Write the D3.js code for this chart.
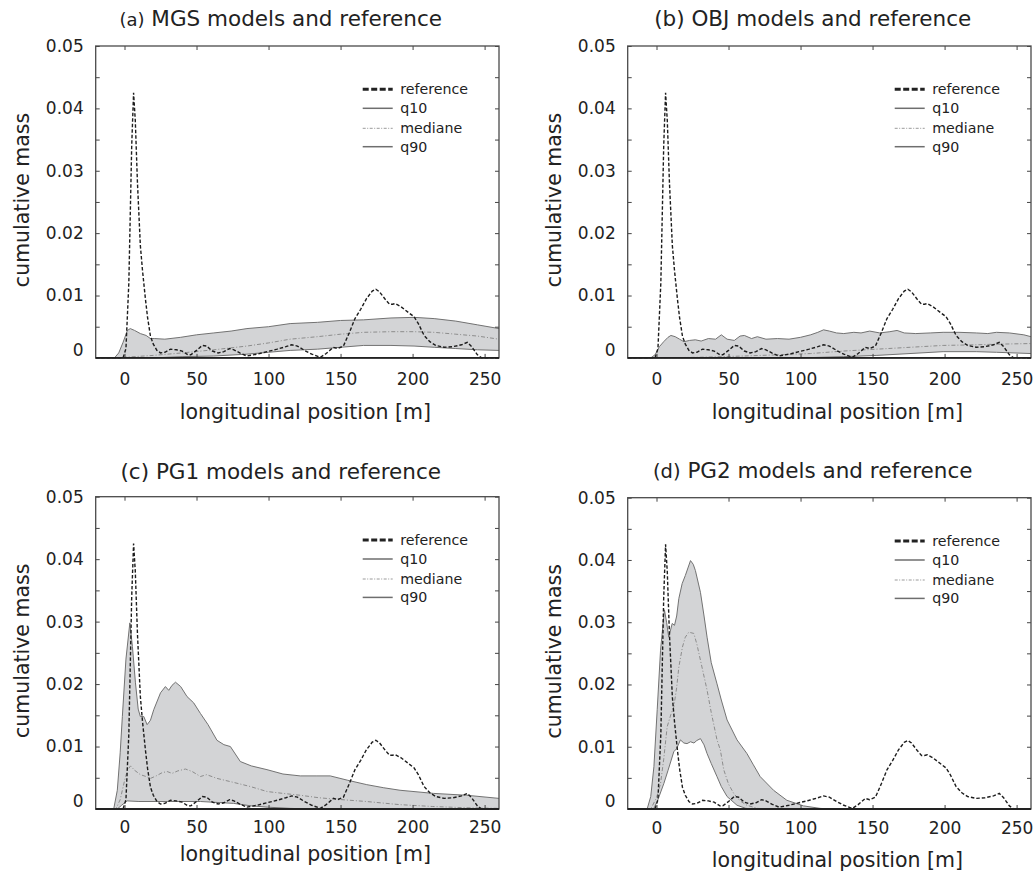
<!DOCTYPE html>
<html>
<head>
<meta charset="utf-8">
<script src="https://cdn.jsdelivr.net/npm/d3@7"></script>
<style>
  body { margin: 0; background: #fff; }
  svg { display: block; font-family: "DejaVu Sans", sans-serif; }
</style>
</head>
<body>
<svg id="chart" width="1035" height="873"></svg>
<script>
// reference curve, identical in the four panels  [x, mass]
const refCurve = [[-20,0],[-1,0],[1,0.0015],[3,0.012],[5,0.034],[6.3,0.0425],[7.5,0.038],[9,0.028],[11,0.018],[12.5,0.014],
  [14.5,0.0095],[16,0.0065],[18,0.0035],[20,0.0022],[22.5,0.0012],[25,0.0008],[28,0.0009],[32,0.0014],[36,0.0013],[40,0.0011],
  [44,0.0005],[46,0.0005],[50,0.0012],[54,0.002],[57,0.0019],[61,0.0011],[65,0.0008],[69,0.001],[73,0.0015],[76,0.0013],
  [80,0.0008],[85,0.0003],[92,0.0006],[99,0.001],[106,0.0014],[112,0.0018],[116,0.0021],[120,0.0019],[125,0.0012],[130,0.0006],
  [136,0.0001],[140,0.0007],[145,0.0017],[148,0.0015],[152,0.0019],[156,0.004],[160,0.0063],[164,0.0078],[168,0.0095],[172,0.0107],
  [174.5,0.011],[177,0.0106],[181,0.0094],[184,0.0086],[186,0.0086],[188,0.0087],[192,0.0082],[197,0.0073],[201,0.0066],[204,0.0055],
  [208,0.0036],[212,0.0026],[216,0.002],[222,0.0017],[228,0.0018],[234,0.0021],[238,0.0025],[241,0.0018],[245,0.0005],[248,0],[260,0]];

// (a) MGS
const mgsQ90 = [[-20,0],[-7,0],[-4,0.0008],[-1,0.0025],[2,0.0044],[4,0.0047],[7,0.0044],[11,0.0039],[15,0.0036],[18,0.0031],
  [21,0.0031],[28,0.003],[39,0.0033],[50,0.0037],[62,0.004],[74,0.0043],[85,0.0047],[100,0.005],[115,0.0055],[134,0.0057],
  [150,0.006],[166,0.0061],[185,0.0064],[201,0.0065],[215,0.0063],[230,0.0059],[245,0.0053],[260,0.0047]];
const mgsMedian = [[-20,0],[-3,0],[0,0.0001],[20,0.0004],[40,0.0008],[62,0.0013],[85,0.0019],[100,0.0024],[115,0.003],[134,0.0034],
  [150,0.0038],[166,0.0041],[185,0.0042],[201,0.0042],[215,0.0041],[230,0.0038],[245,0.0035],[260,0.003]];
const mgsQ10 = [[-20,0],[20,0],[40,0.0002],[62,0.0003],[85,0.0006],[100,0.0009],[115,0.0012],[134,0.0014],[150,0.0017],[166,0.002],
  [185,0.002],[201,0.0019],[215,0.0017],[230,0.0015],[245,0.0013],[260,0.0012]];

// (b) OBJ
const objQ90 = [[-20,0],[-4,0],[-1,0.0005],[2,0.0018],[5,0.0026],[8,0.0033],[10,0.0036],[13,0.0034],[16,0.003],[19,0.0026],
  [23,0.0028],[27,0.0029],[31,0.0027],[36,0.0031],[41,0.003],[45,0.0037],[49,0.003],[54,0.0028],[58,0.0035],[61,0.0036],
  [66,0.0031],[70,0.0034],[76,0.003],[84,0.0031],[92,0.003],[100,0.0033],[107,0.0037],[112,0.0041],[116,0.0045],[120,0.0043],
  [125,0.004],[130,0.0039],[137,0.0041],[142,0.004],[148,0.0043],[155,0.004],[162,0.0042],[167,0.0044],[172,0.004],[180,0.0039],
  [190,0.004],[199,0.0041],[210,0.0041],[222,0.004],[230,0.0039],[236,0.0041],[245,0.004],[255,0.0037],[260,0.0034]];
const objMedian = [[-20,0],[0,0],[30,0.0001],[60,0.0003],[85,0.0005],[107,0.0007],[130,0.0011],[153,0.0014],[176,0.0017],
  [199,0.002],[222,0.0021],[236,0.0022],[260,0.0023]];
const objQ10 = [[-20,0],[100,0],[130,0.0002],[153,0.0004],[176,0.0007],[199,0.001],[222,0.001],[236,0.0009],[260,0.0007]];

// (c) PG1
const pg1Q90 = [[-20,0],[-7.5,0],[-5,0.003],[-3,0.009],[-1.5,0.0148],[1,0.024],[3.7,0.0298],[5.5,0.026],[7.6,0.0202],[9.5,0.016],
  [11,0.0148],[13.4,0.0148],[15.7,0.0135],[18,0.0142],[20.3,0.0159],[25,0.0186],[28.4,0.0196],[30.7,0.019],[33,0.0198],[35.4,0.0203],
  [39,0.0196],[43.4,0.018],[48,0.017],[52.7,0.0153],[58,0.0135],[64.2,0.011],[69,0.0103],[73.5,0.01],[80.4,0.0076],[88,0.0069],
  [98.9,0.0063],[110,0.0056],[122,0.0053],[133,0.0053],[142.8,0.0053],[155,0.0046],[168.2,0.0039],[180,0.0034],[191.3,0.003],
  [214.4,0.0025],[237.5,0.0022],[260,0.0017]];
const pg1Median = [[-20,0],[-6,0],[-3,0.0015],[0,0.0045],[2,0.0062],[4.2,0.0069],[7,0.0062],[11,0.0055],[15,0.0052],[18,0.0049],
  [22,0.0053],[26,0.0058],[29.6,0.006],[33,0.0057],[37,0.0061],[42.3,0.0064],[47,0.006],[52.7,0.0052],[57,0.0055],[64.2,0.0049],
  [75,0.0043],[87.3,0.0036],[98.9,0.0028],[110,0.0025],[122,0.0022],[135,0.0018],[145,0.0016],[168,0.0012],[191,0.0007],
  [214,0.0004],[237,0.0002],[260,0.0001]];
const pg1Q10 = [[-20,0],[-5,0],[-2,0.0006],[1.8,0.0013],[10,0.0012],[30,0.0012],[52.7,0.0012],[75.8,0.0009],[88,0.0005],
  [99,0.0003],[115,0.0001],[130,0],[260,0]];

// (d) PG2
const pg2Q90 = [[-20,0],[-6.5,0],[-4,0.002],[-1.8,0.0068],[0.5,0.016],[2.8,0.0255],[5.5,0.032],[7,0.03],[8.5,0.0276],[10.9,0.0298],
  [12.5,0.0295],[14,0.031],[15.5,0.0338],[17.8,0.0362],[20,0.0375],[23.6,0.0399],[25.5,0.0393],[27,0.0383],[30.5,0.0348],[33,0.031],
  [35.1,0.0276],[38,0.0235],[42,0.0201],[45,0.0175],[49,0.0143],[55.9,0.0111],[62.8,0.0089],[67,0.0072],[72,0.0052],[81.3,0.003],
  [90.5,0.0014],[102,0.0005],[113.6,0.0001],[120,0],[260,0]];
const pg2Median = [[-20,0],[-4,0],[0,0.0018],[2.8,0.0041],[5,0.008],[7.4,0.0132],[10,0.0152],[12,0.0164],[14,0.0195],[15.5,0.0228],
  [18,0.026],[20,0.0276],[22.4,0.0284],[25.9,0.0282],[28,0.0265],[30.5,0.0239],[35.1,0.0191],[38,0.0155],[42,0.0111],[44.3,0.0095],
  [46.7,0.0063],[50,0.004],[53.6,0.0025],[58,0.0013],[62.8,0.0006],[70,0.0001],[75,0],[260,0]];
const pg2Q10 = [[-20,0],[-2,0],[1,0.0015],[5.1,0.0041],[8,0.0062],[12,0.0092],[14,0.0097],[16.6,0.0111],[19,0.0106],[21.2,0.0105],
  [23.6,0.0108],[26,0.0106],[28,0.011],[30.5,0.0113],[33,0.0103],[35.1,0.0089],[38,0.0073],[42,0.0052],[45,0.0036],[49,0.002],
  [55.9,0.0006],[62,0.0001],[68,0],[260,0]];

const xTicks = [0, 50, 100, 150, 200, 250];
const yTicks = [0, 0.01, 0.02, 0.03, 0.04, 0.05];
const yMinorTicks = [0.005, 0.015, 0.025, 0.035, 0.045];
const legendLabels = ['reference', 'q10', 'mediane', 'q90'];

// panel frames (pixels) and the text bits that differ between panels
const panels = [
  {tag: '(a)', tagSize: 18, name: 'MGS', left: 95.7, top: 46, bottom: 357.9, tickPad: 15.5, xLabelY: 419,
   q10: mgsQ10, med: mgsMedian, q90: mgsQ90, titleY: 26},
  {tag: '(b)', tagSize: 21.5, name: 'OBJ', left: 627.7, top: 46, bottom: 357.9, tickPad: 15.5, xLabelY: 419,
   q10: objQ10, med: objMedian, q90: objQ90, titleY: 26},
  {tag: '(c)', tagSize: 21.5, name: 'PG1', left: 95.7, top: 496.7, bottom: 809, tickPad: 11.7, xLabelY: 861,
   q10: pg1Q10, med: pg1Median, q90: pg1Q90, titleY: 479},
  {tag: '(d)', tagSize: 19.5, name: 'PG2', left: 627.7, top: 497.7, bottom: 809, tickPad: 13, xLabelY: 867.5,
   q10: pg2Q10, med: pg2Median, q90: pg2Q90, titleY: 478}
];
const plotWidth = 403.3;

const svg = d3.select('#chart');
svg.append('rect').attr('width', 1035).attr('height', 873).attr('fill', '#fff');

function drawPanel(p, i) {
    const height = p.bottom - p.top;
    const x = d3.scaleLinear().domain([-20, 260]).range([0, plotWidth]);
    const y = d3.scaleLinear().domain([0, 0.05]).range([height, 0]);

    const g = svg.append('g').attr('transform', `translate(${p.left},${p.top})`);

    g.append('clipPath').attr('id', 'clip' + i)
        .append('rect').attr('width', plotWidth).attr('height', height + 1);
    const plot = g.append('g').attr('clip-path', `url(#clip${i})`);

    const line = d3.line().x(d => x(d[0])).y(d => y(d[1]));

    // q10..q90 band
    plot.append('path')
        .attr('d', line(p.q90.concat(p.q10.slice().reverse())) + 'Z')
        .attr('fill', '#d3d4d6')
        .attr('stroke', 'none');

    plot.append('path').attr('d', line(p.q10))
        .attr('fill', 'none').attr('stroke', '#727272').attr('stroke-width', 1);
    plot.append('path').attr('d', line(p.q90))
        .attr('fill', 'none').attr('stroke', '#727272').attr('stroke-width', 1);
    plot.append('path').attr('d', line(p.med))
        .attr('fill', 'none').attr('stroke', '#8c8c8c').attr('stroke-width', 1)
        .attr('stroke-dasharray', '4,2,1,2');
    plot.append('path').attr('d', line(refCurve))
        .attr('fill', 'none').attr('stroke', '#1c1c1c').attr('stroke-width', 1.4)
        .attr('stroke-dasharray', '3.5,2');

    // ticks on all four sides, pointing inward
    const tickStyle = sel => {
        sel.select('.domain').remove();
        sel.selectAll('.tick line').attr('stroke', '#444').attr('stroke-width', 1);
        sel.selectAll('text').attr('fill', '#222').style('font-size', '17px')
            .style('font-family', '"DejaVu Sans", sans-serif');
    };

    g.append('g').attr('transform', `translate(0,${height})`)
        .call(d3.axisBottom(x).tickValues(xTicks).tickSize(-4).tickPadding(p.tickPad))
        .call(tickStyle);
    g.append('g')
        .call(d3.axisTop(x).tickValues(xTicks).tickSize(-4).tickFormat(''))
        .call(tickStyle);

    const yAxis = g.append('g')
        .call(d3.axisLeft(y).tickValues(yTicks).tickSize(-4).tickPadding(12)
            .tickFormat(d => d === 0 ? '0' : d.toFixed(2)))
        .call(tickStyle);
    yAxis.selectAll('.tick text').filter(d => d === 0).attr('dy', '-0.12em');

    g.append('g')
        .call(d3.axisLeft(y).tickValues(yMinorTicks).tickSize(-4).tickFormat(''))
        .call(tickStyle);
    g.append('g').attr('transform', `translate(${plotWidth},0)`)
        .call(d3.axisRight(y).tickValues(yTicks.concat(yMinorTicks)).tickSize(-4).tickFormat(''))
        .call(tickStyle);

    // frame
    g.append('rect').attr('width', plotWidth).attr('height', height)
        .attr('fill', 'none').attr('stroke', '#4a4a4a').attr('stroke-width', 1.3);
    g.append('line').attr('x1', 0).attr('x2', plotWidth).attr('y1', height).attr('y2', height)
        .attr('stroke', '#222').attr('stroke-width', 1.8);

    // axis titles
    g.append('text')
        .attr('transform', `translate(-74,${height / 2 - 2}) rotate(-90)`)
        .attr('text-anchor', 'middle')
        .attr('dy', '0.35em')
        .attr('fill', '#222')
        .style('font-size', '20.5px')
        .text('cumulative mass');

    g.append('text')
        .attr('x', plotWidth / 2 + 8)
        .attr('y', p.xLabelY - p.top)
        .attr('text-anchor', 'middle')
        .attr('fill', '#222')
        .style('font-size', '20.5px')
        .text('longitudinal position [m]');

    // panel title
    const title = g.append('text')
        .attr('x', 185)
        .attr('y', p.titleY - p.top)
        .attr('text-anchor', 'middle')
        .attr('fill', '#222');
    title.append('tspan').style('font-size', p.tagSize + 'px').text(p.tag);
    title.append('tspan').style('font-size', '21.5px').text(` ${p.name} models and reference`);

    // legend
    const legend = g.append('g').attr('transform', 'translate(267,43.3)');
    const legendStyles = [
        {stroke: '#222', width: 3, dash: '6,2.5'},
        {stroke: '#6e6e6e', width: 1.5, dash: null},
        {stroke: '#9a9a9a', width: 1, dash: '3,1.5,1,1.5'},
        {stroke: '#6e6e6e', width: 1.5, dash: null}
    ];
    const rowY = [0, 19, 39, 57.4];
    legendLabels.forEach((label, k) => {
        const s = legendStyles[k];
        legend.append('line')
            .attr('x1', 0).attr('x2', 30).attr('y1', rowY[k]).attr('y2', rowY[k])
            .attr('stroke', s.stroke).attr('stroke-width', s.width)
            .attr('stroke-dasharray', s.dash);
        legend.append('text')
            .attr('x', 37.5).attr('y', rowY[k]).attr('dy', '0.35em')
            .attr('fill', '#222')
            .style('font-size', '14.2px')
            .text(label);
    });
}

panels.forEach(drawPanel);
</script>
</body>
</html>
